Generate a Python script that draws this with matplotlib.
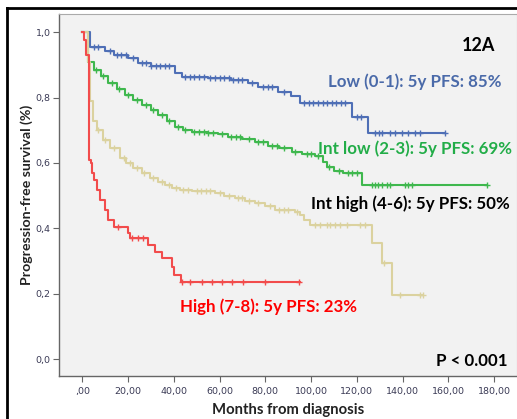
import numpy as np
import matplotlib
matplotlib.use("Agg")
import matplotlib.pyplot as plt
from matplotlib.lines import Line2D

# Kaplan-Meier step data per risk group: event times (months) and survival after each step
low_t = [0, 3.4, 10, 14, 20, 24.5, 30, 40.5, 43.6, 55, 65, 72.5, 77, 85.6, 91, 95, 117.9, 124.9]
low_s = [1.0, 0.955, 0.943, 0.93, 0.92, 0.905, 0.897, 0.876, 0.863, 0.86, 0.855, 0.845, 0.832,
         0.817, 0.805, 0.784, 0.742, 0.693]
low_end = 158.6
low_cens = [5, 7, 12, 15, 17, 19, 22, 26, 28, 30, 32, 34, 36, 38, 45, 47, 49, 51, 53, 56, 58, 60,
            62, 64, 66, 68, 70, 74, 79, 81, 83, 88, 97, 99, 101, 103, 105, 107, 109, 111, 113, 115,
            120, 122, 128, 129.5, 131, 134.6, 136.8, 139.7, 142.4, 145.5, 147.7, 158.6]

intlow_t = [0, 2.6, 5, 8, 11.3, 15, 18.7, 22, 26, 30, 33, 37, 40.5, 44, 47.8, 55, 59.4, 63.8, 70,
            75.5, 81, 86, 91.6, 96, 101.7, 105.3, 107, 110, 114, 122.2]
intlow_s = [1.0, 0.91, 0.885, 0.865, 0.845, 0.825, 0.808, 0.793, 0.778, 0.762, 0.747, 0.73, 0.711,
            0.702, 0.696, 0.693, 0.69, 0.678, 0.672, 0.665, 0.652, 0.645, 0.635, 0.626, 0.62,
            0.604, 0.588, 0.575, 0.569, 0.533]
intlow_end = 176.8
intlow_cens = [6, 9, 13, 16, 20, 24, 28, 31, 35, 38, 42, 45, 49, 51, 53, 55, 57, 61, 65, 67, 69,
               73, 77, 79, 83, 85, 88, 93, 98, 100, 103, 108, 112, 116, 118, 120, 126.5, 128,
               129.4, 130.9, 133.1, 134.6, 141.1, 142.5, 144, 176.8]

inthigh_t = [0, 2.5, 3.5, 4.7, 6.4, 9, 12, 16.5, 19, 22, 26, 29.6, 33, 36, 39, 42.7, 47.8, 58, 62,
             66.8, 71, 75.5, 80, 84.3, 93, 95, 97, 99.5, 126.5, 130.9, 135.3]
inthigh_s = [1.0, 0.91, 0.79, 0.73, 0.70, 0.67, 0.645, 0.615, 0.60, 0.585, 0.57, 0.554, 0.543,
             0.533, 0.523, 0.517, 0.515, 0.508, 0.50, 0.493, 0.485, 0.478, 0.467, 0.456, 0.451,
             0.441, 0.426, 0.41, 0.354, 0.295, 0.196]
inthigh_end = 149
inthigh_cens = [7, 10, 14, 18, 21, 24, 27, 31, 35, 38, 41, 44, 46, 50, 52, 54, 56, 60, 64, 68, 70,
                73, 77, 82, 86, 88, 90, 94, 101.7, 103.9, 106.9, 108.3, 110.5, 112.7, 115.6,
                121.4, 123.6, 132, 139, 147.6, 149]

high_t = [0, 0.6, 1.8, 2.9, 3.6, 4.1, 5.3, 6.3, 7.7, 9.9, 11.4, 14, 20.1, 20.9, 28.9, 31.8, 34.7,
          39.1, 40.2, 43.2]
high_s = [1.0, 0.975, 0.93, 0.61, 0.6, 0.57, 0.548, 0.517, 0.487, 0.456, 0.426, 0.405, 0.385,
          0.37, 0.349, 0.329, 0.308, 0.283, 0.257, 0.235]
high_end = 95.2
high_cens = [15.7, 21.6, 24.5, 26.7, 43.5, 47.1, 52.2, 56.6, 61, 65.3, 70.4, 79.9, 94.5]

x_ticks = [0, 20, 40, 60, 80, 100, 120, 140, 160, 180]
x_tick_labels = [",00", "20,00", "40,00", "60,00", "80,00", "100,00", "120,00", "140,00",
                 "160,00", "180,00"]
y_ticks = [0.0, 0.2, 0.4, 0.6, 0.8, 1.0]
y_tick_labels = ["0,0", "0,2", "0,4", "0,6", "0,8", "1,0"]

groups = [
    (low_t, low_s, low_end, low_cens, "#4f6fb6"),
    (intlow_t, intlow_s, intlow_end, intlow_cens, "#3fb84e"),
    (inthigh_t, inthigh_s, inthigh_end, inthigh_cens, "#dbd29f"),
    (high_t, high_s, high_end, high_cens, "#f24c4c"),
]

fig = plt.figure(figsize=(5.17, 4.19), dpi=100)
ax = fig.add_axes([59 / 517, 1 - 376 / 419, 458 / 517, 362 / 419])
ax.set_facecolor("#f2f2f2")

for t, s, end, cens, color in groups:
    xs = list(t) + [end]
    ys = list(s) + [s[-1]]
    ax.step(xs, ys, where="post", color=color, lw=1.5, zorder=3)
    idx = np.searchsorted(t, cens, side="right") - 1
    cy = np.array(s)[idx]
    ax.plot(cens, cy, ls="none", marker="+", ms=5, mew=1.0, color=color, zorder=4)

ax.set_xlim(-10.2, 190)
ax.set_ylim(-0.052, 1.056)
ax.set_xticks(x_ticks)
ax.set_xticklabels(x_tick_labels)
ax.set_yticks(y_ticks)
ax.set_yticklabels(y_tick_labels)
ax.tick_params(direction="out", length=4, width=0.8, color="#666666", labelsize=6.8,
               labelcolor="#3a3a55", pad=2)
ax.tick_params(axis="x", pad=4)
for side in ["left", "bottom"]:
    ax.spines[side].set_color("#666666")
    ax.spines[side].set_linewidth(1.0)
for side in ["top", "right"]:
    ax.spines[side].set_color("#aaaaaa")
    ax.spines[side].set_linewidth(0.8)

lab_font = dict(family="Lato", weight="bold")
ax.set_xlabel("Months from diagnosis", fontsize=10.7, color="#222222", labelpad=5, **lab_font)
ax.set_ylabel("Progression-free survival (%)", fontsize=10.2, color="#222222", labelpad=2,
              **lab_font)

ax.text(180.3, 0.961, "12A", ha="right", va="center", fontsize=13, color="black", **lab_font)
ax.text(183.4, 0.848, "Low (0-1): 5y PFS: 85%", ha="right", va="center", fontsize=12.2,
        color="#4a6aa9", **lab_font)
ax.text(188.0, 0.643, "Int low (2-3): 5y PFS: 69%", ha="right", va="center", fontsize=12.2,
        color="#22ad48", **lab_font)
ax.text(187.0, 0.475, "Int high (4-6): 5y PFS: 50%", ha="right", va="center", fontsize=12.2,
        color="black", **lab_font)
ax.text(42.7, 0.16, "High (7-8): 5y PFS: 23%", ha="left", va="center", fontsize=12.2,
        color="#ff0000", **lab_font)
ax.text(186.0, -0.005, "P < 0.001", ha="right", va="center", fontsize=12.2, color="black",
        **lab_font)

# black frame along the top and left edge of the figure
fig.add_artist(Line2D([7 / 517, 1], [1 - 8 / 419, 1 - 8 / 419], transform=fig.transFigure,
                      color="black", lw=2))
fig.add_artist(Line2D([7 / 517, 7 / 517], [0, 1 - 8 / 419], transform=fig.transFigure,
                      color="black", lw=2))

fig.savefig("out.png", dpi=100)
